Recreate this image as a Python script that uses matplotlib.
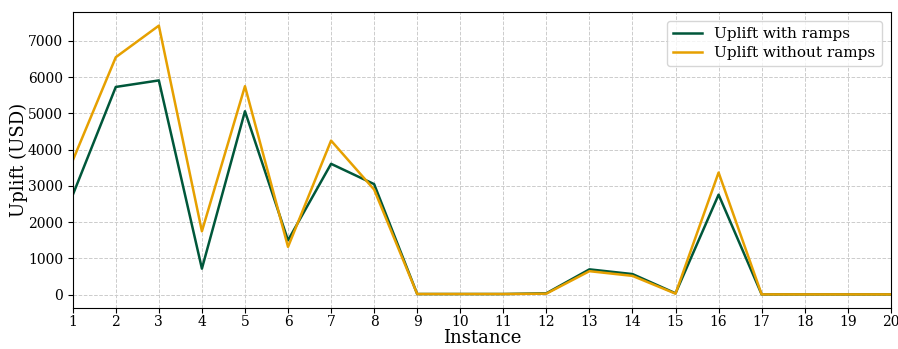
import numpy as np
import matplotlib.pyplot as plt

plt.rcParams['font.family'] = 'DejaVu Serif'

instances = list(range(1, 21))
uplift_ramps = [2750, 5730, 5910, 720, 5060, 1500, 3610, 3050, 20, 20,
                20, 40, 700, 570, 40, 2760, 10, 10, 10, 10]
uplift_no_ramps = [3700, 6550, 7420, 1750, 5750, 1320, 4250, 2900, 20, 20,
                   20, 30, 650, 520, 30, 3370, 10, 10, 10, 10]

fig, ax = plt.subplots(figsize=(8.98, 3.49), dpi=100)
ax.plot(instances, uplift_ramps, color='#00573a', linewidth=1.8, label='Uplift with ramps')
ax.plot(instances, uplift_no_ramps, color='#e6a000', linewidth=1.8, label='Uplift without ramps')
ax.set_xlim(1, 20)
ax.set_xticks(instances)
ax.tick_params(axis='x', pad=2)
ax.set_xlabel('Instance', fontsize=13, labelpad=0)
ax.set_ylabel('Uplift (USD)', fontsize=13, labelpad=0)
ax.grid(True, linestyle='--', color='#cccccc', linewidth=0.7)
ax.legend(loc='upper right', fontsize=11, labelspacing=0.3, handlelength=1.9,
          borderaxespad=0.6)
fig.subplots_adjust(left=0.081, right=0.992, top=0.965, bottom=0.118)
plt.savefig('out.png', dpi=100)
